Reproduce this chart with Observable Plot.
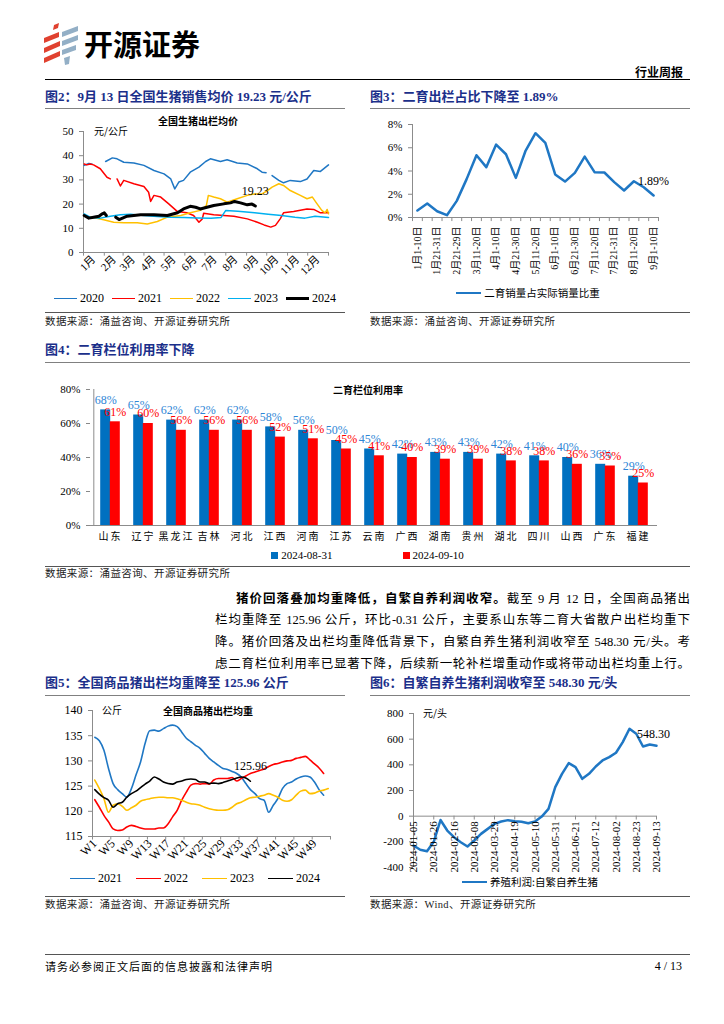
<!DOCTYPE html>
<html><head><meta charset="utf-8">
<script src="https://cdn.jsdelivr.net/npm/d3@7"></script>
<script src="https://cdn.jsdelivr.net/npm/@observablehq/plot@0.6"></script>
<style>
body{margin:0;background:#fff;}
#page{position:relative;width:724px;height:1024px;background:#fff;font-family:"Liberation Serif","Noto Sans CJK SC",serif;color:#000;overflow:hidden}
.abs{position:absolute}
.title{position:absolute;font-family:"Liberation Serif","Noto Sans CJK SC";font-weight:bold;font-size:13px;color:#1B2F8A;white-space:nowrap;line-height:16px}
.hr{position:absolute;height:0;border-top:1px solid #808080}
.src{position:absolute;font-size:10.5px;letter-spacing:0.4px;color:#222;white-space:nowrap;font-family:"Liberation Serif","Noto Sans CJK SC";line-height:14px}
.legend{position:absolute;display:flex;justify-content:center;align-items:center;font-family:"Liberation Serif","Noto Sans CJK SC";white-space:nowrap;line-height:14px}
.legend .it{display:flex;align-items:center}
.legend .ln{display:inline-block;width:23px;height:0;margin-right:3px}
.legend .sq{display:inline-block;width:7px;height:7px;margin-right:3px}
.chart{position:absolute}
.ctitle{position:absolute;font-family:"Noto Sans CJK SC";font-weight:bold;font-size:10px;white-space:nowrap;transform:translateX(-50%);line-height:12px}
.unit{position:absolute;font-size:10px;font-family:"Noto Sans CJK SC";white-space:nowrap;line-height:12px}
.para{position:absolute;left:215px;width:475px;font-family:"Liberation Serif","Noto Sans CJK SC";font-size:12.5px}
.para div{height:22px;line-height:22px;text-align:justify;text-align-last:justify;white-space:nowrap}
g[aria-label$="-axis tick"]{color:#888}
#c4 g[aria-label="x-axis tick label"]{font-size:10px;letter-spacing:2px;font-family:"Noto Sans CJK SC"}
#c3 g[aria-label="x-axis tick label"]{font-size:10px}
</style>
</head><body>
<div id="page">
  <svg class="abs" style="left:40px;top:22px" width="42" height="44" viewBox="0 0 42 44">
    <g fill="#E0412F">
      <polygon points="14,3 19,1 18,6 13,8"/>
      <polygon points="4,16 19,10 19,15 4,21"/>
      <polygon points="4,26 20,19 20,24 4,31"/>
      <polygon points="4,36 20,29 20,34 4,41"/>
    </g>
    <g fill="#93AFC6">
      <polygon points="22,10 38,4 38,9 22,15"/>
      <polygon points="22,19 38,13 38,18 22,24"/>
      <polygon points="22,28 36,23 36,28 22,33"/>
      <polygon points="24,36 30,34 29,42 25,43"/>
    </g>
  </svg>
  <div class="abs" style="left:84px;top:25px;font-family:'Noto Sans CJK SC';font-weight:bold;font-size:29px;line-height:36px;letter-spacing:0px">开源证券</div>
  <div class="abs" style="right:41px;top:65px;font-family:'Noto Sans CJK SC';font-weight:bold;font-size:12px;line-height:14px">行业周报</div>
  <div class="abs" style="left:45px;top:79px;width:645px;border-top:1.5px solid #000"></div>

  <!-- Fig 2 -->
  <div class="title" style="left:45px;top:89px">图2：9月 13 日全国生猪销售均价 19.23 元/公斤</div>
  <div class="hr" style="left:45px;top:108px;width:300px"></div>
  <div class="chart" id="c2" style="left:45px;top:115px"></div>
  <div class="ctitle" style="left:198px;top:115px">全国生猪出栏均价</div>
  <div class="unit" style="left:94px;top:125px">元/公斤</div>
  <div class="legend" id="lg2" style="left:45px;top:291px;width:300px;font-size:12px;gap:8px"></div>
  <div class="hr" style="left:45px;top:312px;width:300px;border-color:#555"></div>
  <div class="src" style="left:45px;top:315px">数据来源：涌益咨询、开源证券研究所</div>

  <!-- Fig 3 -->
  <div class="title" style="left:370px;top:89px">图3：二育出栏占比下降至 1.89%</div>
  <div class="hr" style="left:370px;top:108px;width:320px"></div>
  <div class="chart" id="c3" style="left:370px;top:115px"></div>
  <div class="legend" id="lg3" style="left:370px;top:286px;width:316px;font-size:10.5px;font-family:'Noto Sans CJK SC'"></div>
  <div class="hr" style="left:370px;top:312px;width:320px;border-color:#555"></div>
  <div class="src" style="left:370px;top:315px">数据来源：涌益咨询、开源证券研究所</div>

  <!-- Fig 4 -->
  <div class="title" style="left:45px;top:342px">图4：二育栏位利用率下降</div>
  <div class="hr" style="left:45px;top:362px;width:645px"></div>
  <div class="chart" id="c4" style="left:45px;top:380px"></div>
  <div class="ctitle" style="left:368px;top:384px">二育栏位利用率</div>
  <div class="legend" id="lg4" style="left:45px;top:548px;width:645px;font-size:11px;gap:70px"></div>
  <div class="hr" style="left:45px;top:566px;width:645px;border-color:#555"></div>
  <div class="src" style="left:45px;top:567px">数据来源：涌益咨询、开源证券研究所</div>

  <!-- Paragraph -->
  <div class="para" style="top:587px">
    <div style="padding-left:21px"><b style="font-family:'Noto Sans CJK SC'">猪价回落叠加均重降低，自繁自养利润收窄。</b>截至 9 月 12 日，全国商品猪出</div>
    <div>栏均重降至 125.96 公斤，环比-0.31 公斤，主要系山东等二育大省散户出栏均重下</div>
    <div>降。猪价回落及出栏均重降低背景下，自繁自养生猪利润收窄至 548.30 元/头。考</div>
    <div>虑二育栏位利用率已显著下降，后续新一轮补栏增重动作或将带动出栏均重上行。</div>
  </div>

  <!-- Fig 5 -->
  <div class="title" style="left:45px;top:675px">图5：全国商品猪出栏均重降至 125.96 公斤</div>
  <div class="hr" style="left:45px;top:695px;width:300px"></div>
  <div class="chart" id="c5" style="left:45px;top:700px"></div>
  <div class="ctitle" style="left:208px;top:705px">全国商品猪出栏均重</div>
  <div class="unit" style="left:102px;top:704px">公斤</div>
  <div class="legend" id="lg5" style="left:45px;top:871px;width:300px;font-size:12px;gap:14px"></div>
  <div class="hr" style="left:45px;top:896px;width:300px;border-color:#555"></div>
  <div class="src" style="left:45px;top:898px">数据来源：涌益咨询、开源证券研究所</div>

  <!-- Fig 6 -->
  <div class="title" style="left:370px;top:675px">图6：自繁自养生猪利润收窄至 548.30 元/头</div>
  <div class="hr" style="left:370px;top:695px;width:320px"></div>
  <div class="chart" id="c6" style="left:370px;top:700px"></div>
  <div class="unit" style="left:423px;top:707px">元/头</div>
  <div class="legend" id="lg6" style="left:370px;top:875px;width:320px;font-size:10.5px;font-family:'Noto Sans CJK SC'"></div>
  <div class="hr" style="left:370px;top:896px;width:320px;border-color:#555"></div>
  <div class="src" style="left:370px;top:898px">数据来源：Wind、开源证券研究所</div>

  <!-- Footer -->
  <div class="abs" style="left:45px;top:954px;width:645px;border-top:1.5px solid #555"></div>
  <div class="abs" style="left:45px;top:959px;font-size:11px;letter-spacing:1px;font-family:'Noto Sans CJK SC';line-height:14px">请务必参阅正文后面的信息披露和法律声明</div>
  <div class="abs" style="right:42px;top:959px;font-size:12px;line-height:14px">4 / 13</div>
</div>

<script>
// ---------- Fig 2 data: national hog price (元/公斤), x = day of year ----------
const monthLabels = ["1月","2月","3月","4月","5月","6月","7月","8月","9月","10月","11月","12月"];
const monthMid = [15,46,74,105,135,166,196,227,258,288,319,349];
const monthStart = [0,31,59,90,120,151,181,212,243,273,304,334,365];

const days2020 = [1,8,13,22,33,43,50,60,75,90,105,120,130,136,142,149,159,172,182,189,204,214,229,244,259,266,272,276,281,291,298,308,323,333,343,353,365];
const price2020 = [36.0,36.8,36.5,null,37.6,39.1,38.7,37.3,37.0,36.0,33.9,32.5,30.4,26.3,29.1,29.8,33.2,35.3,37.6,38.7,37.6,38.3,37.0,36.6,34.6,33.2,33.0,null,31.8,29.8,28.8,29.8,29.3,30.4,33.9,33.5,36.2];
const days2021 = [1,5,10,15,25,35,40,45,50,55,60,75,90,97,100,105,115,127,140,154,164,172,177,179,194,209,224,244,259,269,279,286,293,298,313,333,343,353,365];
const price2021 = [36.6,36.2,36.6,36.2,34.6,31.1,30.4,null,30.4,27.5,29.8,28.4,27.3,24.9,21.1,23.6,22.9,20.1,16.9,16.4,15.3,12.5,13.9,16.2,15.6,15.3,15.0,13.9,12.5,11.4,10.5,11.2,13.9,16.4,16.9,18.0,17.8,16.4,16.4];
const days2022 = [1,15,30,45,60,80,95,110,125,145,159,174,183,186,194,204,214,229,244,254,266,274,281,291,298,308,323,333,341,348,355,360,363,365];
const price2022 = [15.0,14.5,13.5,12.5,12.3,12.3,11.8,12.8,14.6,15.3,16.4,17.4,19.4,23.6,22.9,22.2,20.8,22.2,23.6,24.2,24.2,25.6,27.0,28.4,27.7,25.6,23.6,22.2,22.9,20.1,17.4,16.4,17.8,16.0];
const days2023 = [1,10,25,40,55,70,90,110,130,150,170,190,205,212,230,255,275,295,315,330,345,365];
const price2023 = [16.0,14.6,14.2,15.0,15.6,15.8,15.3,14.9,14.6,14.5,14.3,14.2,14.5,17.4,17.0,16.4,15.8,15.3,14.6,14.2,15.0,14.5];
const days2024 = [1,8,15,23,28,31,34,41,48,53,65,85,105,125,140,149,159,167,174,184,194,209,219,225,234,244,251,256];
const price2024 = [15.3,14.2,14.6,15.0,16.0,16.4,15.3,null,14.6,13.6,15.0,15.6,15.6,15.3,16.4,18.0,19.1,18.7,18.0,18.7,19.4,20.1,20.5,21.1,20.5,19.7,20.0,19.23];
const years2 = ["2020","2021","2022","2023","2024"];
const colors2 = ["#1F77C4","#FF0000","#FFC000","#00B0F0","#000000"];
const widths2 = [1.5,1.5,1.5,1.5,3];

// ---------- Fig 3 data: share of second-fattening sales (%) ----------
const fig3Periods = ["1月1-10日","1月11-20日","1月21-31日","2月1-20日","2月21-29日","3月1-10日","3月11-20日","3月21-31日","4月1-10日","4月11-20日","4月21-30日","5月1-10日","5月11-20日","5月21-31日","6月1-10日","6月11-20日","6月21-30日","7月1-10日","7月11-20日","7月21-25日","7月21-31日","8月1-10日","8月11-20日","8月21-31日","9月1-10日"];
const fig3Share = [0.6,1.2,0.54,0.2,1.43,3.3,5.36,4.33,6.27,5.44,3.41,5.76,7.25,6.42,3.7,3.09,3.84,5.24,3.9,3.87,3.04,2.32,3.12,2.6,1.89];
const fig3Shown = [0,2,4,6,8,10,12,14,16,18,20,22,24];

// ---------- Fig 4 data: pen utilisation (%) ----------
const provinces = ["山东","辽宁","黑龙江","吉林","河北","江西","河南","江苏","云南","广西","湖南","贵州","湖北","四川","山西","广东","福建"];
const util0831 = [68,65,62,62,62,58,56,50,45,42,43,43,42,41,40,36,29];
const util0910 = [61,60,56,56,56,52,51,45,41,40,39,39,38,38,36,35,25];

// ---------- Fig 5 data: average slaughter weight (公斤) by week ----------
const weekLabels = ["W1","W5","W9","W13","W17","W21","W25","W29","W33","W37","W41","W45","W49"];
const weight2021 = [134.7,134.0,132.1,128.5,125.5,124.3,123.5,122.8,124.5,127.2,129.8,133.5,136.0,136.1,135.9,136.4,136.9,137.1,136.8,135.7,134.5,133.8,133.1,132.5,131.5,130.5,129.8,129.1,128.5,128.3,127.9,127.5,126.8,125.5,124.3,123.5,122.5,122.2,119.8,121.2,122.5,124.5,125.5,125.8,126.4,126.8,127.0,126.8,125.8,124.3,123.2];
const weight2022 = [122.3,120.8,119.2,117.9,116.5,116.2,116.3,116.9,117.2,117.0,116.7,116.5,116.5,116.5,116.7,116.7,117.5,118.9,120.2,122.2,123.8,125.2,125.5,125.4,125.5,125.4,126.2,126.5,126.5,126.5,126.7,126.0,126.5,127.0,127.5,127.8,128.1,128.4,128.9,129.3,129.5,129.8,130.0,130.1,130.5,130.7,130.9,130.2,129.4,128.6,127.5];
const weight2023 = [126.2,124.5,122.5,119.8,121.2,121.5,121.0,120.2,120.7,121.2,122.0,122.3,122.5,122.7,122.8,122.8,122.7,122.7,122.5,122.2,121.8,121.5,121.4,121.2,120.8,120.5,120.3,120.2,120.2,120.3,120.8,121.5,121.8,122.3,122.7,122.8,123.0,123.2,123.5,123.2,122.8,122.2,122.0,122.3,123.2,124.0,124.2,123.5,123.6,124.0,124.2,124.5];
const weight2024 = [124.3,123.4,122.7,122.2,120.8,121.5,121.8,122.8,123.5,124.0,124.7,125.4,126.0,126.8,126.4,125.8,125.5,125.4,125.8,126.0,126.3,126.4,126.3,125.8,125.8,125.5,125.6,125.5,125.7,126.0,126.3,126.6,126.8,126.6,125.96];
const years5 = ["2021","2022","2023","2024"];
const colors5 = ["#1F77C4","#FF0000","#FFC000","#000000"];

// ---------- Fig 6 data: farrow-to-finish profit (元/头), weekly from 2024-01-05 ----------
const fig6Profit = [-229,-262,-273,-200,-30,-112,-164,-203,-236,-190,-138,-99,-60,-42,-31,-39,-44,-55,-42,-3,57,226,330,413,382,291,330,387,434,460,494,577,681,642,543,558,548.30];
const fig6TickLabels = ["2024-01-05","2024-01-26","2024-02-16","2024-03-08","2024-03-29","2024-04-19","2024-05-10","2024-05-31","2024-06-21","2024-07-12","2024-08-02","2024-08-23","2024-09-13"];

const baseStyle = {fontFamily: "'Liberation Serif','Noto Sans CJK SC',serif", fontSize: "11px", overflow: "visible", background: "transparent"};
const axisGray = "#8c8c8c";

// ---------- Fig 2 ----------
{
  const sets = [[days2020,price2020],[days2021,price2021],[days2022,price2022],[days2023,price2023],[days2024,price2024]];
  const marks = [
    Plot.ruleY([0], {stroke: axisGray}),
    Plot.ruleX([0], {stroke: axisGray}),
    Plot.ruleX(monthStart, {x: d => d, y1: 0, y2: -1.5, stroke: axisGray})
  ];
  sets.forEach(([dd, vv], k) => {
    marks.push(Plot.line(dd.map((d, i) => ({day: d, v: vv[i]})), {x: "day", y: "v", stroke: colors2[k], strokeWidth: widths2[k]}));
  });
  marks.push(Plot.text([{day: days2024[days2024.length-1], v: price2024[price2024.length-1]}], {x: "day", y: "v", text: d => d.v.toFixed(2), dy: -15, fontSize: 12}));
  const p = Plot.plot({
    width: 300, height: 175, marginLeft: 38, marginRight: 17, marginTop: 16, marginBottom: 38,
    style: baseStyle,
    x: {domain: [0, 365], ticks: monthMid, tickFormat: d => monthLabels[monthMid.indexOf(d)], tickRotate: -45, tickSize: 0, tickPadding: 5, label: null},
    y: {domain: [0, 50], ticks: [0,10,20,30,40,50], tickSize: 4, tickPadding: 6, label: null},
    marks
  });
  document.getElementById("c2").appendChild(p);
  const lg = document.getElementById("lg2");
  years2.forEach((y, k) => {
    lg.insertAdjacentHTML("beforeend", `<span class="it"><span class="ln" style="border-top:${widths2[k] > 2 ? 3 : 1.6}px solid ${colors2[k]}"></span>${y}</span>`);
  });
}

// ---------- Fig 3 ----------
{
  const data = fig3Share.map((v, i) => ({i, v}));
  const p = Plot.plot({
    width: 320, height: 175, marginLeft: 42, marginRight: 32, marginTop: 9, marginBottom: 73,
    style: {...baseStyle, fontSize: "11px"},
    x: {domain: [-0.5, 24.5], ticks: fig3Shown, tickFormat: i => fig3Periods[i], tickRotate: -90, tickSize: 0, tickPadding: 9, label: null},
    y: {domain: [0, 8], ticks: [0,2,4,6,8], tickFormat: d => d + "%", tickSize: 4, tickPadding: 6, label: null},
    marks: [
      Plot.ruleY([0], {stroke: axisGray}),
      Plot.ruleX([-0.5], {stroke: axisGray}),
      Plot.ruleX(d3.range(26).map(i => i - 0.5), {x: d => d, y1: 0, y2: -0.35, stroke: axisGray}),
      Plot.line(data, {x: "i", y: "v", stroke: "#1F77C4", strokeWidth: 2.5}),
      Plot.text([data[data.length-1]], {x: "i", y: "v", text: d => d.v.toFixed(2) + "%", dy: -14, fontSize: 12})
    ]
  });
  document.getElementById("c3").appendChild(p);
  document.getElementById("lg3").innerHTML = `<span class="it"><span class="ln" style="width:25px;border-top:2.5px solid #1F77C4"></span>二育销量占实际销量比重</span>`;
}

// ---------- Fig 4 ----------
{
  const d1 = provinces.map((p, i) => ({p, v: util0831[i]}));
  const d2 = provinces.map((p, i) => ({p, v: util0910[i]}));
  const step = (657 - 90) / provinces.length;
  const half = step * 0.288 / 2;
  const p = Plot.plot({
    width: 645, height: 170, marginLeft: 45, marginRight: 33, marginTop: 9, marginBottom: 25,
    style: baseStyle,
    x: {domain: provinces, paddingInner: 0.712, paddingOuter: 0.356, tickSize: 0, tickPadding: 7, label: null},
    y: {domain: [0, 80], ticks: [0,20,40,60,80], tickFormat: d => d + "%", tickSize: 4, tickPadding: 6, label: null},
    marks: [
      Plot.barY(d1, {x: "p", y: "v", fill: "#0070C0", dx: -half}),
      Plot.barY(d2, {x: "p", y: "v", fill: "#FF0000", dx: half}),
      Plot.ruleY([0], {stroke: axisGray}),
      Plot.ruleX([provinces[0]], {dx: -step / 2, stroke: axisGray}),
      Plot.text(d1, {x: "p", y: "v", text: d => d.v + "%", dx: -half, dy: -10, fill: "#2E86D6", fontSize: 12}),
      Plot.text(d2, {x: "p", y: "v", text: d => d.v + "%", dx: half, dy: -10, fill: "#FF0000", fontSize: 12})
    ]
  });
  document.getElementById("c4").appendChild(p);
  document.getElementById("lg4").innerHTML =
    `<span class="it"><span class="sq" style="background:#0070C0"></span>2024-08-31</span>` +
    `<span class="it"><span class="sq" style="background:#FF0000"></span>2024-09-10</span>`;
}

// ---------- Fig 5 ----------
{
  const series = [weight2021, weight2022, weight2023, weight2024];
  const tickPos = weekLabels.map(w => +w.slice(1));
  const marks = [
    Plot.ruleY([115], {stroke: axisGray}),
    Plot.ruleX([0.5], {stroke: axisGray}),
    Plot.ruleX(d3.range(0, 14).map(k => 0.5 + 4 * k), {x: d => d, y1: 115, y2: 114.3, stroke: axisGray})
  ];
  series.forEach((s, k) => {
    marks.push(Plot.line(s.map((v, i) => ({w: i + 1, v})), {x: "w", y: "v", stroke: colors5[k], strokeWidth: 1.6, curve: "monotone-x"}));
  });
  marks.push(Plot.text([{w: weight2024.length, v: weight2024[weight2024.length-1]}], {x: "w", y: "v", text: d => d.v.toFixed(2), dy: -15, fontSize: 12}));
  const p = Plot.plot({
    width: 300, height: 170, marginLeft: 47, marginRight: 15, marginTop: 10, marginBottom: 34,
    style: {...baseStyle, fontSize: "12px"},
    x: {domain: [0.5, 52.5], ticks: tickPos, tickFormat: d => "W" + d, tickRotate: -45, tickSize: 0, tickPadding: 5, label: null},
    y: {domain: [115, 140], ticks: [115,120,125,130,135,140], tickSize: 4, tickPadding: 6, label: null},
    marks
  });
  document.getElementById("c5").appendChild(p);
  const lg = document.getElementById("lg5");
  years5.forEach((y, k) => {
    lg.insertAdjacentHTML("beforeend", `<span class="it"><span class="ln" style="width:25px;border-top:1.6px solid ${colors5[k]}"></span>${y}</span>`);
  });
}

// ---------- Fig 6 ----------
{
  const dates = fig6Profit.map((_, i) => new Date(Date.UTC(2024, 0, 5 + 7 * i)));
  const data = fig6Profit.map((v, i) => ({date: dates[i], v}));
  const tickDates = fig6TickLabels.map(s => new Date(s + "T00:00:00Z"));
  const p = Plot.plot({
    width: 320, height: 175, marginLeft: 43, marginRight: 34, marginTop: 13, marginBottom: 8,
    style: baseStyle,
    x: {type: "utc", domain: [dates[0], dates[dates.length-1]], axis: null},
    y: {domain: [-400, 800], ticks: [-400,-200,0,200,400,600,800], tickFormat: d => String(d), tickSize: 4, tickPadding: 6, label: null},
    marks: [
      Plot.ruleX([dates[0]], {stroke: axisGray}),
      Plot.ruleY([0], {stroke: axisGray}),
      Plot.ruleX(tickDates, {x: d => d, y1: 0, y2: -30, stroke: axisGray}),
      Plot.line(data, {x: "date", y: "v", stroke: "#1F77C4", strokeWidth: 2.5}),
      Plot.text(fig6TickLabels, {x: (d, i) => tickDates[i], y: () => 0, text: d => d, rotate: -90, textAnchor: "end", dy: 5, fontSize: 11}),
      Plot.text([data[data.length-1]], {x: "date", y: "v", text: d => d.v.toFixed(2), dx: -3, dy: -12, fontSize: 12})
    ]
  });
  document.getElementById("c6").appendChild(p);
  document.getElementById("lg6").innerHTML = `<span class="it"><span class="ln" style="width:25px;border-top:2.5px solid #1F77C4"></span>养殖利润:自繁自养生猪</span>`;
}
</script>
</body></html>
